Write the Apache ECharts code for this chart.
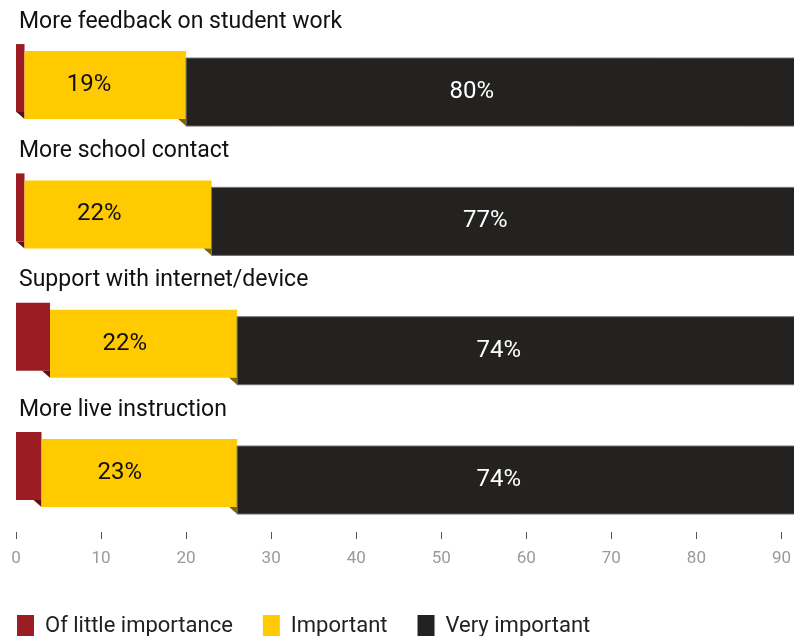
<!DOCTYPE html>
<html>
<head>
<meta charset="utf-8">
<script src="https://cdn.jsdelivr.net/npm/echarts@6/dist/echarts.min.js"></script>
<style>html,body{margin:0;padding:0;background:#fff}#c{width:794px;height:636px}</style>
</head>
<body>
<div id="c"></div>
<script>
var categories = ['More feedback on student work', 'More school contact', 'Support with internet/device', 'More live instruction'];
var littleImportance = [1, 1, 4, 3];
var important = [19, 22, 22, 23];
var veryImportant = [80, 77, 74, 74];
var seriesNames = ['Of little importance', 'Important', 'Very important'];
var xTicks = [0, 10, 20, 30, 40, 50, 60, 70, 80, 90];

var colors = ['#9b1c22', '#ffca00', '#232220'];
var foldColors = ['#5e0f13', '#7d6400'];
var labelColors = [null, '#111', '#fff'];
var labelFrac = [0, 0.4, 0.47];
var FONT = 'Roboto, "Noto Sans", sans-serif';
var SEG_H = 68, OFF = 7;

var valueSets = [littleImportance, important, veryImportant];
function buildData(k) {
  return categories.map(function (c, i) {
    var start = 0;
    for (var j = 0; j < k; j++) start += valueSets[j][i];
    return [i, start, start + valueSets[k][i], valueSets[k][i]];
  });
}

function makeRender(k) {
  return function (params, api) {
    var idx = api.value(0), s = api.value(1), e = api.value(2), v = api.value(3);
    var p0 = api.coord([s, idx]);
    var p1 = api.coord([e, idx]);
    var x0 = p0[0], x1 = p1[0];
    var band = api.size([0, 1])[1];
    var groupTop = p0[1] - band * 0.273;
    var top = groupTop + k * OFF;
    var children = [{
      type: 'rect',
      shape: { x: x0, y: top, width: x1 - x0, height: SEG_H },
      style: { fill: colors[k], stroke: k === 2 ? '#6d6d6d' : null, lineWidth: k === 2 ? 1 : 0 }
    }];
    if (k < 2) {
      var w = Math.min(OFF + 1, x1 - x0);
      children.push({
        type: 'polygon',
        shape: { points: [[x1 - w, top + SEG_H], [x1, top + SEG_H], [x1, top + SEG_H + OFF]] },
        style: { fill: foldColors[k] }
      });
    }
    if (k === 0) {
      children.push({
        type: 'text',
        style: {
          text: categories[idx], x: api.coord([0, idx])[0] + 3, y: groupTop - 22,
          fill: '#111', font: '23px ' + FONT, textAlign: 'left', textVerticalAlign: 'middle'
        }
      });
    } else {
      var visEnd = Math.min(x1, api.getWidth());
      children.push({
        type: 'text',
        style: {
          text: v + '%', x: x0 + (visEnd - x0) * labelFrac[k], y: top + SEG_H / 2,
          fill: labelColors[k], font: '24px ' + FONT, textAlign: 'center', textVerticalAlign: 'middle'
        }
      });
    }
    return { type: 'group', children: children };
  };
}

var series = seriesNames.map(function (name, k) {
  return {
    type: 'custom',
    name: name,
    renderItem: makeRender(k),
    itemStyle: { color: colors[k] },
    encode: { x: [1, 2], y: 0 },
    data: buildData(k),
    clip: false,
    z: 2 + k
  };
});

var chart = echarts.init(document.getElementById('c'), null, { renderer: 'canvas' });
chart.setOption({
  animation: false,
  backgroundColor: '#fff',
  grid: { left: 16, right: 8.5, top: 14.7, bottom: 104 },
  xAxis: {
    type: 'value', min: xTicks[0], max: xTicks[xTicks.length - 1], interval: 10,
    axisLine: { show: false },
    axisTick: { show: true, length: 7, lineStyle: { color: '#555', width: 1 } },
    splitLine: { show: false },
    axisLabel: { color: '#9a9a9a', fontSize: 17, fontFamily: FONT, margin: 18 }
  },
  yAxis: {
    type: 'category', data: categories, inverse: true, show: false
  },
  legend: {
    left: 12, top: 610, itemWidth: 17, itemHeight: 22, itemGap: 30,
    icon: 'rect', selectedMode: false,
    textStyle: { fontSize: 22, color: '#222', fontFamily: FONT, padding: [0, 0, 0, 6] },
    data: seriesNames
  },
  series: series
});
</script>
</body>
</html>
